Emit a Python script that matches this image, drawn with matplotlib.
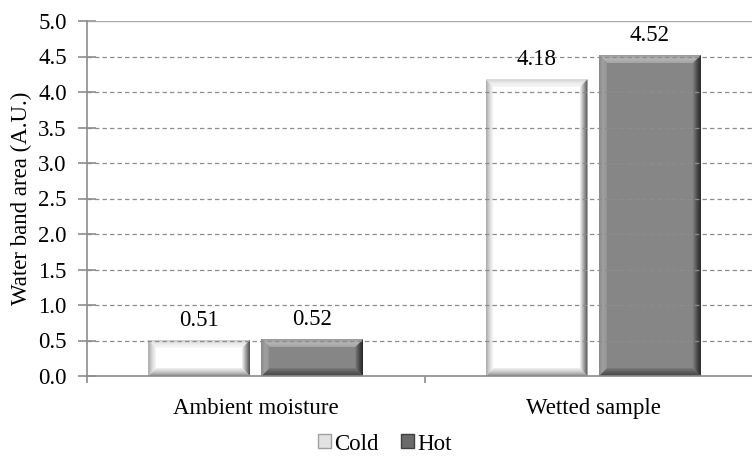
import numpy as np
import matplotlib
matplotlib.use("Agg")
import matplotlib.pyplot as plt
from matplotlib.patches import Polygon, Patch
from matplotlib.colors import LinearSegmentedColormap

categories = ["Ambient moisture", "Wetted sample"]
series_names = ["Cold", "Hot"]
cold_values = [0.51, 4.18]
hot_values = [0.52, 4.52]
y_ticks = [0.0, 0.5, 1.0, 1.5, 2.0, 2.5, 3.0, 3.5, 4.0, 4.5, 5.0]
y_label = "Water band area (A.U.)"

plt.rcParams['font.family'] = ['Liberation Serif', 'DejaVu Serif']
FS = 16.5

W, H = 752, 457
fig = plt.figure(figsize=(W / 100, H / 100), dpi=100)
ax_left, ax_right, ax_bottom, ax_top = 87, 762, 376, 21
ax = fig.add_axes([ax_left / W, (H - ax_bottom) / H, (ax_right - ax_left) / W, (ax_bottom - ax_top) / H])

x = np.arange(len(categories))
width = 0.302
off = 0.168

face = {"Cold": "#ffffff", "Hot": "#868686"}
# bevel colours: list from outer edge to inner edge, for top, left, right, bottom
bevels = {
    "Cold": {"top": ["#cfcfcf", "#ececec", "#f7f7f7"], "left": ["#a8a8a8", "#dcdcdc", "#ffffff"],
             "right": ["#4a4a4a", "#a0a0a0", "#f4f4f4"], "bottom": ["#8a8a8a", "#c8c8c8", "#f2f2f2"]},
    "Hot": {"top": ["#9c9c9c", "#b4b4b4", "#a4a4a4"], "left": ["#8a8a8a", "#a0a0a0", "#949494"],
            "right": ["#262626", "#4e4e4e", "#808080"], "bottom": ["#454545", "#5c5c5c", "#7a7a7a"]},
}

ax.set_xlim(-0.5, 1.5)
ax.set_ylim(0, 5.0)

bars_cold = ax.bar(x - off, cold_values, width, color=face["Cold"], edgecolor="none", zorder=3)
bars_hot = ax.bar(x + off, hot_values, width, color=face["Hot"], edgecolor="none", zorder=3)

# bevel size in pixels -> data units
bpx = 8
px_per_x = (ax_right - ax_left) / 2.0
px_per_y = (ax_bottom - ax_top) / 5.0
bx = bpx / px_per_x
by = bpx / px_per_y


def grad_poly(poly_pts, extent, colors, direction):
    cmap = LinearSegmentedColormap.from_list("g", colors)
    n = 64
    g = np.linspace(0, 1, n)
    if direction == "top":
        arr = g[:, None]
    elif direction == "bottom":
        arr = g[::-1][:, None]
    elif direction == "left":
        arr = g[None, :]
    else:
        arr = g[::-1][None, :]
    poly = Polygon(poly_pts, closed=True, transform=ax.transData, facecolor="none", edgecolor="none")
    ax.add_patch(poly)
    im = ax.imshow(arr, cmap=cmap, extent=extent, origin="upper", aspect="auto",
                   interpolation="bilinear", zorder=4)
    im.set_clip_path(poly)


for name, bars in (("Cold", bars_cold), ("Hot", bars_hot)):
    bv = bevels[name]
    for r in bars:
        x0, y0 = r.get_x(), r.get_y()
        x1, y1 = x0 + r.get_width(), y0 + r.get_height()
        grad_poly([(x0, y1), (x1, y1), (x1 - bx, y1 - by), (x0 + bx, y1 - by)],
                  (x0, x1, y1 - by, y1), bv["top"], "top")
        grad_poly([(x0, y0), (x1, y0), (x1 - bx, y0 + by), (x0 + bx, y0 + by)],
                  (x0, x1, y0, y0 + by), bv["bottom"], "bottom")
        grad_poly([(x0, y0), (x0, y1), (x0 + bx, y1 - by), (x0 + bx, y0 + by)],
                  (x0, x0 + bx, y0, y1), bv["left"], "left")
        grad_poly([(x1, y0), (x1, y1), (x1 - bx, y1 - by), (x1 - bx, y0 + by)],
                  (x1 - bx, x1, y0, y1), bv["right"], "right")
        ax.annotate(f"{r.get_height():.2f}", (r.get_x() + r.get_width() / 2, y1),
                    xytext=(0, 14), textcoords="offset points", ha="center", va="center",
                    fontsize=FS, color="#000000", zorder=6)

ax.set_xlim(-0.5, 1.5)
ax.set_ylim(0, 5.0)

# grid
for yv in y_ticks[1:-1]:
    ax.axhline(yv, color="#8c8c8c", lw=0.9, ls=(0, (3.5, 2.5)), zorder=5)
ax.axhline(5.0, color="#a6a6a6", lw=1.0, zorder=2)

for s in ["top", "right"]:
    ax.spines[s].set_visible(False)
for s in ["left", "bottom"]:
    ax.spines[s].set_color("#8c8c8c")
    ax.spines[s].set_linewidth(1.2)
    ax.spines[s].set_zorder(6)

ax.set_yticks(y_ticks)
ax.set_yticklabels([f"{v:.1f}" for v in y_ticks], fontsize=FS)
ax.tick_params(axis="y", direction="inout", length=13, width=1.2, color="#8c8c8c", pad=8)

ax.set_xticks([-0.5, 0.5, 1.5])
ax.set_xticklabels([])
ax.set_xticks(x, minor=True)
ax.set_xticklabels(categories, minor=True, fontsize=FS)
ax.tick_params(axis="x", which="major", direction="out", length=5, width=1.2, color="#8c8c8c")
ax.tick_params(axis="x", which="minor", length=0, pad=16)

ax.set_ylabel(y_label, fontsize=FS)
ax.yaxis.set_label_coords(-0.082, 0.5)

handles = [Patch(facecolor="#e2e2e2", edgecolor="#a0a0a0", label="Cold"),
           Patch(facecolor="#6a6a6a", edgecolor="#404040", label="Hot")]
fig.legend(handles=handles, loc="center", bbox_to_anchor=(385 / W, 13 / H), ncol=2,
           frameon=False, fontsize=FS, handlelength=0.55, handleheight=0.55,
           handletextpad=0.15, columnspacing=1.0, borderaxespad=0)

fig.savefig("out.png", dpi=100)
